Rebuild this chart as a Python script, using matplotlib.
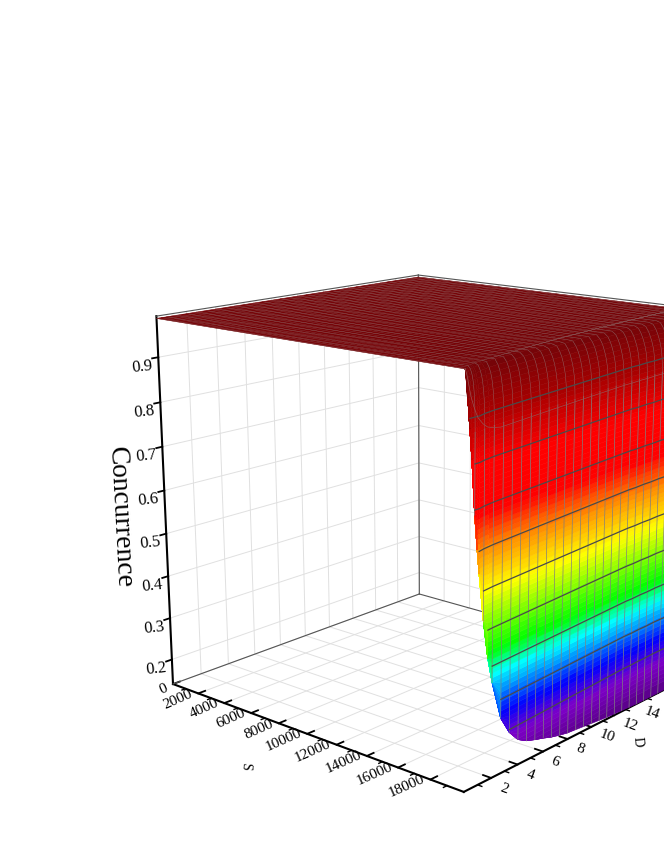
import numpy as np
import matplotlib
matplotlib.use('Agg')
import matplotlib.pyplot as plt
from matplotlib.colors import LinearSegmentedColormap, Normalize

plt.rcParams['font.family'] = ['Liberation Serif', 'DejaVu Sans']
plt.rcParams['grid.color'] = '#e0e0e0'
plt.rcParams['grid.linewidth'] = 0.7

# axis ticks
s_ticks = [0, 2000, 4000, 6000, 8000, 10000, 12000, 14000, 16000, 18000]
s_minor = [1000, 3000, 5000, 7000, 9000, 11000, 13000, 15000, 17000, 19000]
D_ticks = [2, 4, 6, 8, 10, 12, 14, 16, 18]
D_minor = [1, 3, 5, 7, 9, 11, 13, 15, 17, 19]
z_ticks = [0.2, 0.3, 0.4, 0.5, 0.6, 0.7, 0.8, 0.9]

# D columns of the surface with the height on the s=20000 edge and how far the shoulder reaches back
D_cols = [0, .15, .3, .45, .667, .85, 1, 1.333, 1.667, 2, 2.667, 3.333, 4, 4.667, 5.333, 6, 6.667, 7.333, 8,
          8.667, 9.333, 10, 10.667, 11.333, 12, 12.667, 13.333, 14, 14.667, 15.333, 16, 16.667, 17.333,
          18, 18.667, 19.333, 20]
edge_z = [.985, .93, .87, .81, .70, .63, .58, .48, .40, .345, .26, .22, .195, .183, .176, .17, .163, .158, .154,
          .152, .15, .148, .146, .144, .143, .142, .141, .14, .14, .14, .14, .14, .14,
          .14, .14, .14, .14]
shoulder_width = [80, 160, 240, 320, 420, 470, 510, 580, 640, 690, 780, 860, 950, 1030, 1110, 1190, 1270, 1340, 1410,
                  1480, 1530, 1580, 1630, 1680, 1730, 1780, 1820, 1860, 1900, 1940, 1970, 2000, 2040,
                  2070, 2100, 2120, 2150]
# how much the wall rises towards large D
wall_lift = [0, 0, 0, 0, 0, 0, 0, .002, .003, .004, .005, .006, .007, .008, .009, .01, .011, .012, .013,
             .014, .015, .016, .017, .018, .019, .02, .02, .021, .021, .022, .022, .022, .022,
             .022, .022, .022, .022]

# rows of the wall, top to bottom
shoulder_z = [.985, .98, .97, .96, .95, .94, .93, .92, .91, .90, .89, .88, .87, .86]
shoulder_back = [1, .68, .46, .33, .24, .18, .13, .09, .06, .04, .025, .015, .008, .003]
wall_z = [.85, .84, .83, .82, .81, .80, .79, .78, .77, .76, .75, .74, .73, .72, .71, .70, .69, .68,
          .67, .66, .65, .64, .63, .62, .61, .60, .59, .58, .57, .56, .55, .54, .53, .52, .51, .50,
          .49, .48, .47, .46, .45, .44, .43, .42, .41, .40, .39, .38, .37, .36, .35, .34, .33, .32,
          .31, .30, .29, .28, .27, .26, .25, .24, .23, .22, .21, .20, .19, .18, .17, .16, .15, .14]
# the darker lines running along D on the wall
wall_lines = [.89, .80, .71, .625, .54, .455, .375, .295, .22]
# the faint line through the shoulder
faint_z = [.985, .97, .95, .93, .91, .895, .885, .87, .86, .855, .85, .85, .85, .85, .85, .85, .85, .85, .85,
           .85, .85, .85, .85, .85, .85, .85, .85, .85, .85, .85, .85, .85, .85,
           .85, .85, .85, .85]

level_z = [.14, .21, .27, .36, .41, .54, .625, .70, .80, .90, .985]
level_col = ['#5a0088', '#7d00c8', '#0000ff', '#00ffff', '#00ff00', '#ffff00', '#ff9000', '#ff0000', '#ff0000', '#a80000', '#760408']

s_max, D_max = 20000, 20
z_min, z_max = .14, .99
z_top = .985

D_cols = np.array(D_cols)
edge_z = np.array(edge_z)
shoulder_width = np.array(shoulder_width)
wall_lift = np.array(wall_lift)

fig = plt.figure(figsize=(6.64, 8.6), dpi=100)
ax = fig.add_subplot(111, projection='3d', computed_zorder=False)
ax.set_position([0.16359, 0.03398, 0.96657, 0.74628])
ax.view_init(elev=15.501, azim=-49.111)
ax.set_proj_type('persp', focal_length=0.48443)
ax.set_box_aspect((0.9995, 0.9781, 0.975))
ax.set_xlim(0, s_max, view_margin=0)
ax.set_ylim(0, D_max, view_margin=0)
ax.set_zlim(z_min, z_max, view_margin=0)

# surface
rows_z = np.array(shoulder_z + wall_z)
rows_back = np.array(shoulder_back + [0] * len(wall_z))
Z = np.maximum(np.minimum(rows_z[:, None] + wall_lift, z_top), edge_z)
X = s_max - np.outer(rows_back, shoulder_width)
Y = np.tile(D_cols, (len(rows_z), 1))
# far edge of the plateau, and the s=20000 edge that closes the wall
X = np.vstack([np.zeros(len(D_cols)), X, np.full(len(D_cols), s_max)])
Y = np.vstack([D_cols, Y, D_cols])
Z = np.vstack([np.full(len(D_cols), z_top), Z, edge_z])

cmap = LinearSegmentedColormap.from_list('wall', [((z - z_min) / (z_top - z_min), c) for z, c in zip(level_z, level_col)], N=128)
norm = Normalize(z_min, z_top)
cell_z = (Z[:-1, :-1] + Z[1:, :-1] + Z[:-1, 1:] + Z[1:, 1:]) / 4
ax.plot_surface(X, Y, Z, facecolors=cmap(norm(cell_z)), rstride=1, cstride=1, shade=False,
                linewidth=0.4, antialiased=True, zorder=3)

# mesh on the surface
n_top = len(shoulder_z) + 1
mesh_cols = [j for j, d in enumerate(D_cols) if abs(d / (2 / 3) - round(d / (2 / 3))) < 0.01]
for j in mesh_cols:
    ax.plot3D(X[:2, j], Y[:2, j], Z[:2, j], color='#8a5a5a', lw=0.3, alpha=0.8, zorder=4)
    ax.plot3D(X[1:n_top, j], Y[1:n_top, j], Z[1:n_top, j], color='#8c7070', lw=0.4, alpha=0.7, zorder=4)
    ax.plot3D(X[n_top - 1:, j], Y[n_top - 1:, j], Z[n_top - 1:, j], color='#7f7f7f', lw=0.55, alpha=0.9, zorder=4)
for s in range(400, 20000, 400):
    ax.plot3D(np.minimum(s, s_max - shoulder_width), D_cols, np.full(len(D_cols), z_top), color='#8a5a5a', lw=0.25, alpha=0.8, zorder=4)
for lv in wall_lines:
    keep = edge_z <= lv
    ax.plot3D(np.full(keep.sum(), s_max), D_cols[keep], lv + wall_lift[keep], color='#4a4a4a', lw=0.9, zorder=5)
ax.plot3D(s_max - 0.2 * shoulder_width, D_cols, faint_z + wall_lift, color='#9a5050', lw=0.5, zorder=5)

# box edges
edge_kw = dict(color='#555555', lw=0.8, zorder=2)
ax.plot3D([0, 0], [0, D_max], [z_min, z_min], **edge_kw)
ax.plot3D([0, s_max], [D_max, D_max], [z_min, z_min], **edge_kw)
ax.plot3D([0, 0], [D_max, D_max], [z_min, z_max], **edge_kw)
ax.plot3D([0, 0], [0, D_max], [z_max, z_max], **edge_kw)
ax.plot3D([0, s_max], [D_max, D_max], [z_max, z_max], **edge_kw)

# minor ticks, drawn by hand so the panes only get grid lines at the major ones
for s in s_minor:
    ax.plot3D([s, s], [0, -.25], [z_min, z_min], color='k', lw=1.0, zorder=2)
for d in D_minor:
    ax.plot3D([s_max, s_max + 250], [d, d], [z_min, z_min], color='k', lw=1.0, zorder=2)

# axes
ax.set_xticks(s_ticks)
ax.set_yticks(D_ticks)
ax.set_zticks(z_ticks)
ax.set_xticklabels([str(v) for v in s_ticks], ha='right', va='center')
ax.set_yticklabels([str(v) for v in D_ticks], ha='left', va='center')
ax.set_zticklabels([f'{v:.1f}' for v in z_ticks])
ax.tick_params(axis='x', which='major', labelsize=11, labelrotation=24, pad=-5)
ax.tick_params(axis='y', which='major', labelsize=11, labelrotation=-20, pad=-3)
ax.tick_params(axis='z', which='major', labelsize=12, labelrotation=6, pad=-1)
ax.zaxis.set_ticks_position('lower')
for axis in (ax.xaxis, ax.yaxis, ax.zaxis):
    axis.set_pane_color((1, 1, 1, 1))
    axis.pane.set_edgecolor('none')
    axis.line.set_color('k')
    axis.line.set_linewidth(1.5)
    axis._axinfo['tick']['inward_factor'] = 0.0
    axis._axinfo['tick']['outward_factor'] = 0.3
    axis._axinfo['tick']['linewidth'] = {True: 1.3, False: 1.0}
ax.zaxis._axinfo['tick']['inward_factor'] = 0.25
ax.zaxis._axinfo['tick']['outward_factor'] = 0.0

# axis titles sit off the middle of their axes, so they are placed on the figure
ax.text2D(245 / 664, 1 - 766 / 860, 'S', fontsize=10, rotation=-95, ha='center', va='center', transform=fig.transFigure)
ax.text2D(637 / 664, 1 - 742 / 860, 'D', fontsize=10, rotation=-85, ha='center', va='center', transform=fig.transFigure)
ax.text2D(120 / 664, 1 - 517 / 860, 'Concurrence', fontsize=20, rotation=-87, ha='center', va='center', transform=fig.transFigure)

fig.savefig('out.png', dpi=100)
